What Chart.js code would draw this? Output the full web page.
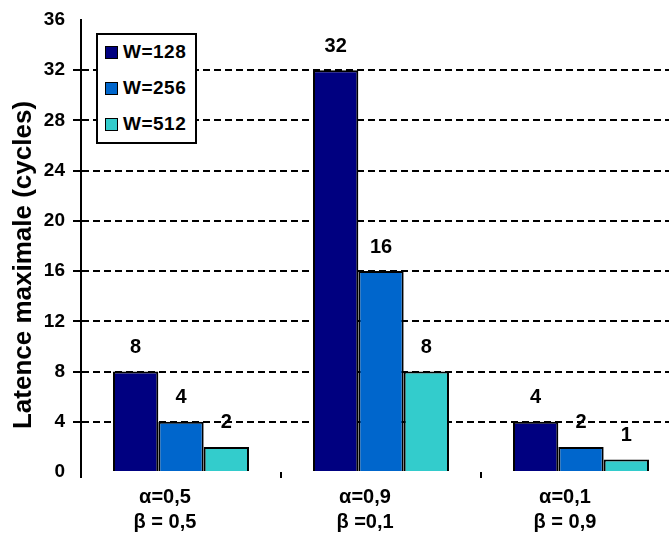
<!DOCTYPE html>
<html>
<head>
<meta charset="utf-8">
<script src="https://cdn.jsdelivr.net/npm/chart.js@4"></script>
<style>
  html, body { margin: 0; padding: 0; background: #fff; overflow: hidden; }
  #wrap { position: relative; width: 700px; height: 538px; }
  #legend {
    position: absolute; left: 96px; top: 33px; width: 97px; height: 107px;
    border: 2px solid #000; background: #fff;
    font: bold 19px 'Liberation Sans', Arial, sans-serif; color: #000;
  }
  #legend .item { position: absolute; left: 7px; display: flex; align-items: center; height: 20px; letter-spacing: 0.5px; }
  #legend .box { width: 11px; height: 11px; border: 1px solid #000; margin-right: 5px; }
</style>
</head>
<body>
<div id="wrap">
  <canvas id="chart" width="700" height="538"></canvas>
  <div id="legend"></div>
</div>
<script>
const categories = [['α=0,5', 'β = 0,5'], ['α=0,9', 'β =0,1'], ['α=0,1', 'β = 0,9']];
const seriesNames = ['W=128', 'W=256', 'W=512'];
const w128 = [8, 32, 4];
const w256 = [4, 16, 2];
const w512 = [2, 8, 1];
const colors = ['#000080', '#0066CC', '#33CCCC'];
const yTitle = 'Latence maximale (cycles)';

const FONT = "'Liberation Sans', Arial, sans-serif";

// value labels above each bar
const valueLabels = {
  id: 'valueLabels',
  afterDatasetsDraw(chart) {
    const ctx = chart.ctx;
    ctx.save();
    ctx.font = 'bold 20px ' + FONT;
    ctx.fillStyle = '#000';
    ctx.textAlign = 'center';
    ctx.textBaseline = 'middle';
    chart.data.datasets.forEach((ds, i) => {
      chart.getDatasetMeta(i).data.forEach((bar, j) => {
        ctx.fillText(String(ds.data[j]), bar.x, bar.y - 24);
      });
    });
    ctx.restore();
  }
};

// rotated y title, sits a bit lower than the plot middle like the original
const axisTitle = {
  id: 'axisTitle',
  afterDraw(chart) {
    const ctx = chart.ctx;
    const area = chart.chartArea;
    ctx.save();
    ctx.translate(24, (area.top + area.bottom) / 2 + 19);
    ctx.rotate(-Math.PI / 2);
    ctx.font = 'bold 26px ' + FONT;
    ctx.fillStyle = '#000';
    ctx.textAlign = 'center';
    ctx.textBaseline = 'middle';
    ctx.fillText(yTitle, 0, 0);
    ctx.restore();
  }
};

const hideEnds = (c) => (c.tick && (c.tick.value === 0 || c.tick.value === 36)) ? 'rgba(0,0,0,0)' : '#000';

const chart = new Chart(document.getElementById('chart').getContext('2d'), {
  type: 'bar',
  data: {
    labels: categories,
    datasets: [w128, w256, w512].map((d, i) => ({
      label: seriesNames[i],
      data: d,
      backgroundColor: colors[i],
      borderColor: '#000',
      borderWidth: 2,
      categoryPercentage: 0.68,
      barPercentage: 1,
    })),
  },
  options: {
    responsive: false,
    animation: false,
    layout: { padding: { left: 0, right: 19, top: 20, bottom: 0 } },
    plugins: {
      legend: { display: false },
      tooltip: { enabled: false },
    },
    scales: {
      x: {
        afterFit: (s) => { s.height = 66; },
        border: { display: false },
        grid: {
          offset: true,
          drawOnChartArea: false,
          color: '#000',
          lineWidth: 2,
          tickLength: 6,
        },
        ticks: {
          color: '#000',
          font: { family: FONT, size: 20, weight: 'bold', lineHeight: 1.25 },
          padding: 7,
          labelOffset: -16,
          maxRotation: 0,
        },
      },
      y: {
        min: 0,
        max: 36,
        afterFit: (s) => { s.width = 81; },
        border: { display: true, color: '#000', width: 2, dash: [7, 4] },
        grid: {
          color: hideEnds,
          tickColor: hideEnds,
          lineWidth: 2,
          tickBorderDash: [],
          tickLength: 8,
        },
        ticks: {
          stepSize: 4,
          color: '#000',
          font: { family: FONT, size: 19, weight: 'bold' },
          padding: 8,
        },
      },
    },
  },
  plugins: [valueLabels, axisTitle],
});

// legend box drawn over the plot
const legend = document.getElementById('legend');
chart.data.datasets.forEach((ds, i) => {
  const item = document.createElement('div');
  item.className = 'item';
  item.style.top = (7 + i * 36) + 'px';
  item.innerHTML = '<span class="box" style="background:' + ds.backgroundColor + '"></span>' + ds.label;
  legend.appendChild(item);
});
</script>
</body>
</html>
